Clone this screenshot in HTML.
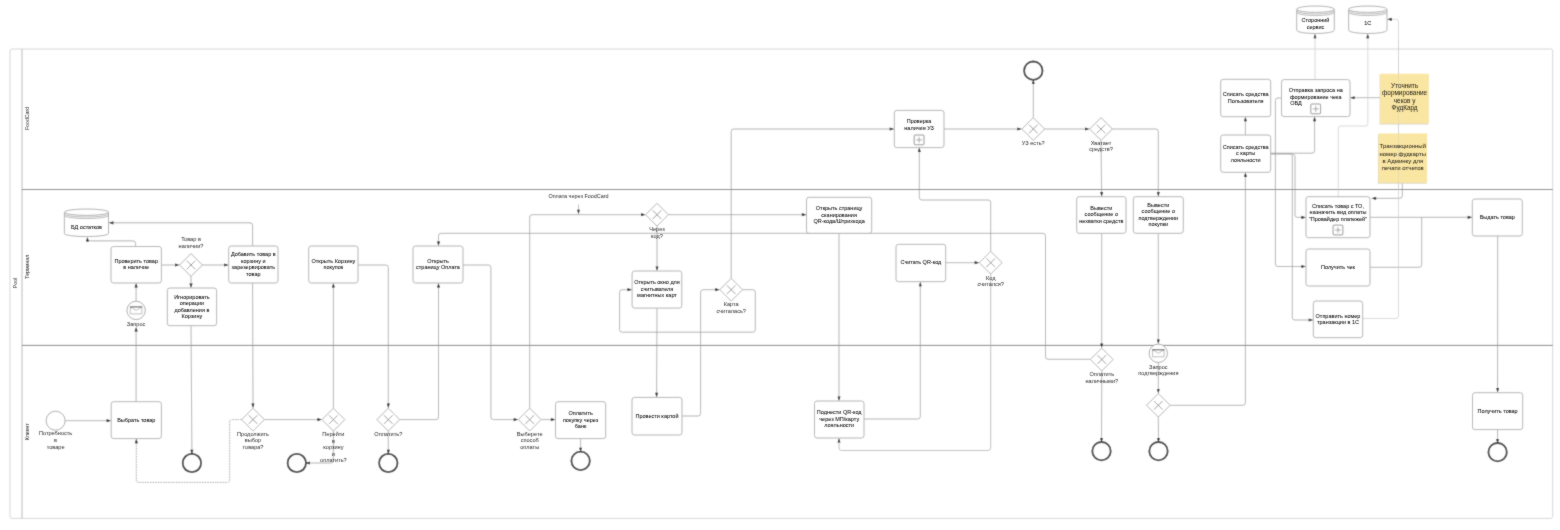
<!DOCTYPE html>
<html><head><meta charset="utf-8"><title>BPMN</title>
<style>
html,body{margin:0;padding:0;background:#fff;width:1560px;height:530px;overflow:hidden}
svg{display:block}
text{font-family:"Liberation Sans",sans-serif}
</style></head><body>
<svg width="1560" height="530" viewBox="0 0 1560 530">
<defs><filter id="soft" x="0" y="0" width="1560" height="530" filterUnits="userSpaceOnUse"><feConvolveMatrix order="3" kernelMatrix="1 3 1 3 16 3 1 3 1" divisor="32" edgeMode="duplicate"/></filter><filter id="softt" x="0" y="0" width="1560" height="530" filterUnits="userSpaceOnUse"><feConvolveMatrix order="3" kernelMatrix="1 2 1 2 24 2 1 2 1" divisor="36" preserveAlpha="false"/></filter></defs>
<g filter="url(#soft)">
<rect width="1560" height="530" fill="#fff"/>
<rect x="10" y="49" width="1542.7" height="469.4" rx="2" fill="#fff" stroke="#d6d6d6" stroke-width="1"/>
<line x1="22" y1="49" x2="22" y2="518.4" stroke="#c9c9c9" stroke-width="1.3"/>
<line x1="22" y1="189.5" x2="1552.7" y2="189.5" stroke="#6a6a6a" stroke-width="0.9"/>
<line x1="22" y1="345.4" x2="1552.7" y2="345.4" stroke="#6a6a6a" stroke-width="0.9"/>
<path d="M65.2 420.7L106.6 420.7" fill="none" stroke="#a0a0a0" stroke-width="0.8"/>
<path d="M111.2 420.7L106.6 422.2L106.6 419.1Z" fill="#111"/>
<path d="M136.1 401.7L136.1 331.6" fill="none" stroke="#a0a0a0" stroke-width="0.8"/>
<path d="M136.1 327.0L137.7 331.6L134.5 331.6Z" fill="#111"/>
<path d="M136.1 301.2L136.1 287.6" fill="none" stroke="#a0a0a0" stroke-width="0.8"/>
<path d="M136.1 283.0L137.7 287.6L134.5 287.6Z" fill="#111"/>
<path d="M135.6 246.5L135.6 243.4Q135.6 240.9 133.1 240.9L89.9 240.9Q87.4 240.9 87.4 238.4L87.4 241.6" fill="none" stroke="#9a9a9a" stroke-width="0.8"/>
<path d="M87.4 237.0L89.0 241.6L85.9 241.6Z" fill="#111"/>
<path d="M252.6 246.0L252.6 225.3Q252.6 222.8 250.1 222.8L113.4 222.8" fill="none" stroke="#9a9a9a" stroke-width="0.8"/>
<path d="M108.8 222.8L113.4 221.2L113.4 224.4Z" fill="#111"/>
<path d="M161.4 265.0L175.0 265.0" fill="none" stroke="#a0a0a0" stroke-width="0.8"/>
<path d="M179.6 265.0L175.0 266.6L175.0 263.4Z" fill="#111"/>
<path d="M202.4 265.0L224.1 265.0" fill="none" stroke="#a0a0a0" stroke-width="0.8"/>
<path d="M228.7 265.0L224.1 266.6L224.1 263.4Z" fill="#111"/>
<path d="M191.0 276.4L191.0 283.4" fill="none" stroke="#a0a0a0" stroke-width="0.8"/>
<path d="M191.0 288.0L189.4 283.4L192.6 283.4Z" fill="#111"/>
<path d="M191.0 325.7L191.9 449.8" fill="none" stroke="#a0a0a0" stroke-width="0.8"/>
<path d="M191.9 454.4L190.3 449.8L193.4 449.8Z" fill="#111"/>
<path d="M252.6 283.0L253.0 403.6" fill="none" stroke="#a0a0a0" stroke-width="0.8"/>
<path d="M253.0 408.2L251.4 403.6L254.5 403.6Z" fill="#111"/>
<path d="M264.4 419.6L317.4 419.6" fill="none" stroke="#a0a0a0" stroke-width="0.8"/>
<path d="M322.0 419.6L317.4 421.2L317.4 418.1Z" fill="#111"/>
<path d="M241.6 419.6L232.1 419.6Q229.6 419.6 229.6 422.1L229.6 479.9Q229.6 482.4 227.1 482.4L138.8 482.4Q136.3 482.4 136.3 479.9L136.3 443.2" fill="none" stroke="#8a8a8a" stroke-width="0.8" stroke-dasharray="1.5 1.1"/>
<path d="M136.3 438.6L137.9 443.2L134.8 443.2Z" fill="#111"/>
<path d="M333.4 408.2L333.4 287.6" fill="none" stroke="#a0a0a0" stroke-width="0.8"/>
<path d="M333.4 283.0L334.9 287.6L331.8 287.6Z" fill="#111"/>
<path d="M333.4 431.0L333.4 460.5Q333.4 463.0 330.9 463.0L310.0 463.0" fill="none" stroke="#a0a0a0" stroke-width="0.8"/>
<path d="M305.4 463.0L310.0 461.4L310.0 464.6Z" fill="#111"/>
<path d="M358.0 265.0L385.8 265.0Q388.3 265.0 388.3 267.5L388.3 403.6" fill="none" stroke="#a0a0a0" stroke-width="0.8"/>
<path d="M388.3 408.2L386.8 403.6L389.9 403.6Z" fill="#111"/>
<path d="M388.3 431.0L388.3 449.8" fill="none" stroke="#a0a0a0" stroke-width="0.8"/>
<path d="M388.3 454.4L386.8 449.8L389.9 449.8Z" fill="#111"/>
<path d="M399.7 419.6L436.0 419.6Q438.5 419.6 438.5 417.1L438.5 287.6" fill="none" stroke="#a0a0a0" stroke-width="0.8"/>
<path d="M438.5 283.0L440.1 287.6L436.9 287.6Z" fill="#111"/>
<path d="M463.0 265.0L488.4 265.0Q490.9 265.0 490.9 267.5L490.9 417.1Q490.9 419.6 493.4 419.6L513.7 419.6" fill="none" stroke="#a0a0a0" stroke-width="0.8"/>
<path d="M518.3 419.6L513.7 421.2L513.7 418.1Z" fill="#111"/>
<path d="M541.1 419.6L550.9 419.6" fill="none" stroke="#a0a0a0" stroke-width="0.8"/>
<path d="M555.5 419.6L550.9 421.2L550.9 418.1Z" fill="#111"/>
<path d="M580.6 438.6L580.6 447.7" fill="none" stroke="#a0a0a0" stroke-width="0.8"/>
<path d="M580.6 452.3L579.1 447.7L582.1 447.7Z" fill="#111"/>
<path d="M529.7 408.2L529.7 217.2Q529.7 214.7 532.2 214.7L641.0 214.7" fill="none" stroke="#a0a0a0" stroke-width="0.8"/>
<path d="M645.6 214.7L641.0 216.2L641.0 213.1Z" fill="#111"/>
<path d="M578.5 204.5L578.5 209.7" fill="none" stroke="#a0a0a0" stroke-width="0.7"/>
<path d="M578.5 214.3L577.0 209.7L580.0 209.7Z" fill="#111"/>
<path d="M668.4 214.7L801.9 214.7" fill="none" stroke="#a0a0a0" stroke-width="0.8"/>
<path d="M806.5 214.7L801.9 216.2L801.9 213.1Z" fill="#111"/>
<path d="M657.0 226.1L657.0 266.4" fill="none" stroke="#a0a0a0" stroke-width="0.8"/>
<path d="M657.0 271.0L655.5 266.4L658.5 266.4Z" fill="#111"/>
<path d="M657.0 308.1L656.6 392.8" fill="none" stroke="#a0a0a0" stroke-width="0.8"/>
<path d="M656.6 397.4L655.1 392.8L658.2 392.8Z" fill="#111"/>
<path d="M682.0 416.0L698.1 416.0Q700.6 416.0 700.6 413.5L700.6 292.2Q700.6 289.7 703.1 289.7L715.2 289.7" fill="none" stroke="#a0a0a0" stroke-width="0.8"/>
<path d="M719.8 289.7L715.2 291.2L715.2 288.1Z" fill="#111"/>
<path d="M742.6 289.7L752.8 289.7Q755.3 289.7 755.3 292.2L755.3 329.7Q755.3 332.2 752.8 332.2L622.1 332.2Q619.6 332.2 619.6 329.7L619.6 292.2Q619.6 289.7 622.1 289.7L627.5 289.7" fill="none" stroke="#a0a0a0" stroke-width="0.8"/>
<path d="M632.1 289.7L627.5 291.2L627.5 288.1Z" fill="#111"/>
<path d="M731.2 278.3L731.2 131.5Q731.2 129.0 733.7 129.0L889.7 129.0" fill="none" stroke="#a0a0a0" stroke-width="0.8"/>
<path d="M894.3 129.0L889.7 130.6L889.7 127.5Z" fill="#111"/>
<path d="M839.0 233.3L839.0 396.4" fill="none" stroke="#a0a0a0" stroke-width="0.8"/>
<path d="M839.0 401.0L837.5 396.4L840.5 396.4Z" fill="#111"/>
<path d="M864.0 419.0L917.8 419.0Q920.3 419.0 920.3 416.5L920.3 286.3" fill="none" stroke="#a0a0a0" stroke-width="0.8"/>
<path d="M920.3 281.7L921.8 286.3L918.8 286.3Z" fill="#111"/>
<path d="M945.7 262.7L974.7 262.7" fill="none" stroke="#a0a0a0" stroke-width="0.8"/>
<path d="M979.3 262.7L974.7 264.2L974.7 261.1Z" fill="#111"/>
<path d="M990.7 251.3L990.7 202.5Q990.7 200.0 988.2 200.0L921.8 200.0Q919.3 200.0 919.3 197.5L919.3 151.9" fill="none" stroke="#a0a0a0" stroke-width="0.8"/>
<path d="M919.3 147.3L920.8 151.9L917.8 151.9Z" fill="#111"/>
<path d="M990.7 274.1L990.7 448.0Q990.7 450.5 988.2 450.5L841.5 450.5Q839.0 450.5 839.0 448.0L839.0 442.6" fill="none" stroke="#b0b0b0" stroke-width="0.8"/>
<path d="M839.0 438.0L840.5 442.6L837.5 442.6Z" fill="#111"/>
<path d="M1090.4 359.3L1048.0 359.3Q1045.5 359.3 1045.5 356.8L1045.5 235.8Q1045.5 233.3 1043.0 233.3L441.0 233.3Q438.5 233.3 438.5 235.8L438.5 241.4" fill="none" stroke="#a0a0a0" stroke-width="0.8"/>
<path d="M438.5 246.0L436.9 241.4L440.1 241.4Z" fill="#111"/>
<path d="M944.0 129.0L1017.3 129.0" fill="none" stroke="#a0a0a0" stroke-width="0.8"/>
<path d="M1021.9 129.0L1017.3 130.6L1017.3 127.5Z" fill="#111"/>
<path d="M1033.3 117.6L1033.3 84.1" fill="none" stroke="#a0a0a0" stroke-width="0.8"/>
<path d="M1033.3 79.5L1034.8 84.1L1031.8 84.1Z" fill="#111"/>
<path d="M1044.7 129.0L1085.0 129.0" fill="none" stroke="#a0a0a0" stroke-width="0.8"/>
<path d="M1089.6 129.0L1085.0 130.6L1085.0 127.5Z" fill="#111"/>
<path d="M1101.0 140.4L1101.6 192.1" fill="none" stroke="#a0a0a0" stroke-width="0.8"/>
<path d="M1101.7 196.7L1100.1 192.1L1103.2 192.1Z" fill="#111"/>
<path d="M1112.4 129.0L1155.8 129.0Q1158.3 129.0 1158.3 131.5L1158.3 192.1" fill="none" stroke="#a0a0a0" stroke-width="0.8"/>
<path d="M1158.3 196.7L1156.8 192.1L1159.8 192.1Z" fill="#111"/>
<path d="M1101.7 233.3L1101.7 343.4" fill="none" stroke="#a0a0a0" stroke-width="0.8"/>
<path d="M1101.7 348.0L1100.2 343.4L1103.2 343.4Z" fill="#111"/>
<path d="M1158.3 233.3L1158.3 339.5" fill="none" stroke="#a0a0a0" stroke-width="0.8"/>
<path d="M1158.3 344.1L1156.8 339.5L1159.8 339.5Z" fill="#111"/>
<path d="M1158.3 362.5L1158.3 388.9" fill="none" stroke="#a0a0a0" stroke-width="0.8"/>
<path d="M1158.3 393.5L1156.8 388.9L1159.8 388.9Z" fill="#111"/>
<path d="M1101.8 371.0L1101.5 438.0" fill="none" stroke="#a0a0a0" stroke-width="0.8"/>
<path d="M1101.5 442.6L1100.0 438.0L1103.1 438.0Z" fill="#111"/>
<path d="M1158.3 417.3L1158.5 438.0" fill="none" stroke="#a0a0a0" stroke-width="0.8"/>
<path d="M1158.5 442.6L1156.9 438.0L1160.0 438.0Z" fill="#111"/>
<path d="M1170.3 405.3L1242.9 405.3Q1245.4 405.3 1245.4 402.8L1245.4 176.9" fill="none" stroke="#a0a0a0" stroke-width="0.8"/>
<path d="M1245.4 172.3L1247.0 176.9L1243.9 176.9Z" fill="#111"/>
<path d="M1245.4 135.0L1245.4 121.3" fill="none" stroke="#a0a0a0" stroke-width="0.8"/>
<path d="M1245.4 116.7L1247.0 121.3L1243.9 121.3Z" fill="#111"/>
<path d="M1270.7 153.2L1312.1 153.2Q1314.6 153.2 1314.6 150.7L1314.6 121.2" fill="none" stroke="#a0a0a0" stroke-width="0.8"/>
<path d="M1314.6 116.6L1316.1 121.2L1313.0 121.2Z" fill="#111"/>
<path d="M1270.7 153.6L1289.8 153.6Q1292.3 153.6 1292.3 156.1L1292.3 317.5Q1292.3 320.0 1294.8 320.0L1308.7 320.0" fill="none" stroke="#a0a0a0" stroke-width="0.8"/>
<path d="M1313.3 320.0L1308.7 321.6L1308.7 318.4Z" fill="#111"/>
<path d="M1270.7 154.0L1292.5 154.0Q1295.0 154.0 1295.0 156.5L1295.0 214.9Q1295.0 217.4 1297.5 217.4L1301.4 217.4" fill="none" stroke="#a0a0a0" stroke-width="0.8"/>
<path d="M1306.0 217.4L1301.4 219.0L1301.4 215.8Z" fill="#111"/>
<path d="M1281.5 98.0L1277.9 98.0Q1275.4 98.0 1275.4 100.5L1275.4 264.0Q1275.4 266.5 1277.9 266.5L1301.4 266.5" fill="none" stroke="#a0a0a0" stroke-width="0.8"/>
<path d="M1306.0 266.5L1301.4 268.1L1301.4 264.9Z" fill="#111"/>
<path d="M1370.0 217.3L1467.7 217.3" fill="none" stroke="#a0a0a0" stroke-width="0.8"/>
<path d="M1472.3 217.3L1467.7 218.9L1467.7 215.8Z" fill="#111"/>
<path d="M1370.0 267.3L1419.2 267.3Q1421.7 267.3 1421.7 264.8L1421.7 217.3" fill="none" stroke="#a0a0a0" stroke-width="0.8"/>
<path d="M1497.7 236.0L1497.6 388.1" fill="none" stroke="#a0a0a0" stroke-width="0.8"/>
<path d="M1497.6 392.7L1496.1 388.1L1499.2 388.1Z" fill="#111"/>
<path d="M1497.6 429.6L1497.6 439.0" fill="none" stroke="#a0a0a0" stroke-width="0.8"/>
<path d="M1497.6 443.6L1496.0 439.0L1499.1 439.0Z" fill="#111"/>
<path d="M1380.0 97.7L1354.6 97.7" fill="none" stroke="#a0a0a0" stroke-width="0.8"/>
<path d="M1350.0 97.7L1354.6 96.2L1354.6 99.2Z" fill="#111"/>
<path d="M1402.3 182.7L1402.3 195.8Q1402.3 198.3 1399.8 198.3L1376.1 198.3" fill="none" stroke="#a0a0a0" stroke-width="0.8"/>
<path d="M1371.5 198.3L1376.1 196.8L1376.1 199.9Z" fill="#111"/>
<path d="M1315.0 79.6L1315.0 38.3" fill="none" stroke="#cfcfcf" stroke-width="0.8"/>
<path d="M1315.0 33.7L1316.5 38.3L1313.5 38.3Z" fill="#111"/>
<path d="M1338.3 196.7L1338.3 128.5Q1338.3 126.0 1340.8 126.0L1365.3 126.0Q1367.8 126.0 1367.8 123.5L1367.8 38.3" fill="none" stroke="#cfcfcf" stroke-width="0.8"/>
<path d="M1367.8 33.7L1369.3 38.3L1366.2 38.3Z" fill="#111"/>
<path d="M1362.7 318.5L1396.0 318.5Q1398.5 318.5 1398.5 316.0L1398.5 21.8Q1398.5 19.3 1396.0 19.3L1391.8 19.3" fill="none" stroke="#cfcfcf" stroke-width="0.8"/>
<path d="M1387.2 19.3L1391.8 17.8L1391.8 20.9Z" fill="#111"/>
<rect x="111.0" y="246.5" width="50.4" height="36.5" rx="2.5" fill="#fff" stroke="#b2b2b2" stroke-width="1"/>
<rect x="167.3" y="288.0" width="49.3" height="37.7" rx="2.5" fill="#fff" stroke="#b2b2b2" stroke-width="1"/>
<rect x="228.7" y="246.0" width="49.3" height="37.0" rx="2.5" fill="#fff" stroke="#b2b2b2" stroke-width="1"/>
<rect x="308.7" y="246.0" width="49.3" height="37.0" rx="2.5" fill="#fff" stroke="#b2b2b2" stroke-width="1"/>
<rect x="413.0" y="246.0" width="50.0" height="37.0" rx="2.5" fill="#fff" stroke="#b2b2b2" stroke-width="1"/>
<rect x="632.1" y="271.0" width="49.7" height="37.1" rx="2.5" fill="#fff" stroke="#b2b2b2" stroke-width="1"/>
<rect x="806.5" y="197.3" width="65.2" height="36.0" rx="2.5" fill="#fff" stroke="#b2b2b2" stroke-width="1"/>
<rect x="896.0" y="244.3" width="49.7" height="37.4" rx="2.5" fill="#fff" stroke="#b2b2b2" stroke-width="1"/>
<rect x="1076.7" y="196.7" width="49.3" height="36.6" rx="2.5" fill="#fff" stroke="#b2b2b2" stroke-width="1"/>
<rect x="1133.3" y="196.7" width="50.0" height="36.6" rx="2.5" fill="#fff" stroke="#b2b2b2" stroke-width="1"/>
<rect x="1306.0" y="196.7" width="64.0" height="41.0" rx="2.5" fill="#fff" stroke="#b2b2b2" stroke-width="1"/>
<rect x="1333.1" y="225.1" width="9.8" height="9.8" rx="0.8" fill="none" stroke="#8a8a8a" stroke-width="0.9"/>
<path d="M1335.0 230.0H1341.0M1338.0 227.0V233.0" stroke="#8a8a8a" stroke-width="0.7"/>
<rect x="1306.0" y="249.0" width="64.0" height="37.0" rx="2.5" fill="#fff" stroke="#b2b2b2" stroke-width="1"/>
<rect x="1313.3" y="301.0" width="49.4" height="36.7" rx="2.5" fill="#fff" stroke="#b2b2b2" stroke-width="1"/>
<rect x="1472.3" y="199.0" width="50.0" height="37.0" rx="2.5" fill="#fff" stroke="#b2b2b2" stroke-width="1"/>
<rect x="894.3" y="110.4" width="49.7" height="37.2" rx="2.5" fill="#fff" stroke="#b2b2b2" stroke-width="1"/>
<rect x="914.2" y="135.0" width="9.8" height="9.8" rx="0.8" fill="none" stroke="#8a8a8a" stroke-width="0.9"/>
<path d="M916.1 139.9H922.1M919.1 136.9V142.9" stroke="#8a8a8a" stroke-width="0.7"/>
<rect x="1220.7" y="79.3" width="50.0" height="37.4" rx="2.5" fill="#fff" stroke="#b2b2b2" stroke-width="1"/>
<rect x="1220.7" y="135.0" width="50.0" height="37.3" rx="2.5" fill="#fff" stroke="#b2b2b2" stroke-width="1"/>
<rect x="1281.5" y="79.6" width="68.5" height="37.0" rx="2.5" fill="#fff" stroke="#b2b2b2" stroke-width="1"/>
<rect x="1310.8" y="104.0" width="9.8" height="9.8" rx="0.8" fill="none" stroke="#8a8a8a" stroke-width="0.9"/>
<path d="M1312.8 108.9H1318.8M1315.8 105.9V111.9" stroke="#8a8a8a" stroke-width="0.7"/>
<rect x="111.2" y="401.7" width="50.2" height="36.9" rx="2.5" fill="#fff" stroke="#b2b2b2" stroke-width="1"/>
<rect x="555.5" y="401.7" width="50.2" height="36.9" rx="2.5" fill="#fff" stroke="#b2b2b2" stroke-width="1"/>
<rect x="632.0" y="397.4" width="50.0" height="37.6" rx="2.5" fill="#fff" stroke="#b2b2b2" stroke-width="1"/>
<rect x="814.5" y="401.0" width="49.5" height="37.0" rx="2.5" fill="#fff" stroke="#b2b2b2" stroke-width="1"/>
<rect x="1472.5" y="392.7" width="50.2" height="36.9" rx="2.5" fill="#fff" stroke="#b2b2b2" stroke-width="1"/>
<path d="M191.0 253.6L202.4 265.0L191.0 276.4L179.6 265.0Z" fill="#fff" stroke="#a8a8a8" stroke-width="0.9"/>
<path d="M186.7 260.7L195.3 269.3M195.3 260.7L186.7 269.3" stroke="#8c8c8c" stroke-width="0.9"/>
<path d="M657.0 203.3L668.4 214.7L657.0 226.1L645.6 214.7Z" fill="#fff" stroke="#a8a8a8" stroke-width="0.9"/>
<path d="M652.7 210.4L661.3 219.0M661.3 210.4L652.7 219.0" stroke="#8c8c8c" stroke-width="0.9"/>
<path d="M731.2 278.3L742.6 289.7L731.2 301.1L719.8 289.7Z" fill="#fff" stroke="#a8a8a8" stroke-width="0.9"/>
<path d="M726.9 285.4L735.5 294.0M735.5 285.4L726.9 294.0" stroke="#8c8c8c" stroke-width="0.9"/>
<path d="M990.7 251.3L1002.1 262.7L990.7 274.1L979.3 262.7Z" fill="#fff" stroke="#a8a8a8" stroke-width="0.9"/>
<path d="M986.4 258.4L995.0 267.0M995.0 258.4L986.4 267.0" stroke="#8c8c8c" stroke-width="0.9"/>
<path d="M1033.3 117.6L1044.7 129.0L1033.3 140.4L1021.9 129.0Z" fill="#fff" stroke="#a8a8a8" stroke-width="0.9"/>
<path d="M1029.0 124.7L1037.6 133.3M1037.6 124.7L1029.0 133.3" stroke="#8c8c8c" stroke-width="0.9"/>
<path d="M1101.0 117.6L1112.4 129.0L1101.0 140.4L1089.6 129.0Z" fill="#fff" stroke="#a8a8a8" stroke-width="0.9"/>
<path d="M1096.7 124.7L1105.3 133.3M1105.3 124.7L1096.7 133.3" stroke="#8c8c8c" stroke-width="0.9"/>
<path d="M253.0 408.2L264.4 419.6L253.0 431.0L241.6 419.6Z" fill="#fff" stroke="#a8a8a8" stroke-width="0.9"/>
<path d="M248.7 415.3L257.3 423.9M257.3 415.3L248.7 423.9" stroke="#8c8c8c" stroke-width="0.9"/>
<path d="M333.4 408.2L344.8 419.6L333.4 431.0L322.0 419.6Z" fill="#fff" stroke="#a8a8a8" stroke-width="0.9"/>
<path d="M329.1 415.3L337.7 423.9M337.7 415.3L329.1 423.9" stroke="#8c8c8c" stroke-width="0.9"/>
<path d="M388.3 408.2L399.7 419.6L388.3 431.0L376.9 419.6Z" fill="#fff" stroke="#a8a8a8" stroke-width="0.9"/>
<path d="M384.0 415.3L392.6 423.9M392.6 415.3L384.0 423.9" stroke="#8c8c8c" stroke-width="0.9"/>
<path d="M529.7 408.2L541.1 419.6L529.7 431.0L518.3 419.6Z" fill="#fff" stroke="#a8a8a8" stroke-width="0.9"/>
<path d="M525.4 415.3L534.0 423.9M534.0 415.3L525.4 423.9" stroke="#8c8c8c" stroke-width="0.9"/>
<path d="M1101.8 348.1L1113.2 359.5L1101.8 370.9L1090.4 359.5Z" fill="#fff" stroke="#a8a8a8" stroke-width="0.9"/>
<path d="M1097.5 355.2L1106.1 363.8M1106.1 355.2L1097.5 363.8" stroke="#8c8c8c" stroke-width="0.9"/>
<path d="M1158.3 393.5L1170.1 405.3L1158.3 417.1L1146.5 405.3Z" fill="#fff" stroke="#a8a8a8" stroke-width="0.9"/>
<path d="M1154.0 401.0L1162.6 409.6M1162.6 401.0L1154.0 409.6" stroke="#8c8c8c" stroke-width="0.9"/>
<circle cx="1033.3" cy="70.7" r="9.2" fill="#fff" stroke="#303030" stroke-width="1.8"/>
<circle cx="191.9" cy="463.0" r="9.2" fill="#fff" stroke="#303030" stroke-width="1.8"/>
<circle cx="296.8" cy="463.0" r="9.2" fill="#fff" stroke="#303030" stroke-width="1.8"/>
<circle cx="388.3" cy="463.0" r="9.2" fill="#fff" stroke="#303030" stroke-width="1.8"/>
<circle cx="580.6" cy="460.9" r="9.2" fill="#fff" stroke="#303030" stroke-width="1.8"/>
<circle cx="1101.5" cy="451.2" r="9.2" fill="#fff" stroke="#303030" stroke-width="1.8"/>
<circle cx="1158.5" cy="451.2" r="9.2" fill="#fff" stroke="#303030" stroke-width="1.8"/>
<circle cx="1497.6" cy="452.2" r="9.2" fill="#fff" stroke="#303030" stroke-width="1.8"/>
<circle cx="55.6" cy="420.7" r="9.5" fill="#fff" stroke="#a0a0a0" stroke-width="0.9"/>
<circle cx="136.1" cy="310.4" r="9.2" fill="#fff" stroke="#a0a0a0" stroke-width="0.9"/>
<path d="M130.3 306.9V313.9H141.9V306.9 M130.3 306.9L136.1 310.4L141.9 306.9" fill="none" stroke="#a0a0a0" stroke-width="0.7"/>
<path d="M130.0 306.9H142.2" fill="none" stroke="#3a3a3a" stroke-width="0.9"/>
<circle cx="1158.3" cy="353.3" r="9.2" fill="#fff" stroke="#a0a0a0" stroke-width="0.9"/>
<path d="M1152.5 349.8V356.8H1164.1V349.8 M1152.5 349.8L1158.3 353.3L1164.1 349.8" fill="none" stroke="#a0a0a0" stroke-width="0.7"/>
<path d="M1152.2 349.8H1164.4" fill="none" stroke="#3a3a3a" stroke-width="0.9"/>
<path d="M64.4 212.2V233.4A22.0 3.2 0 0 0 108.5 233.4V212.2" fill="#fff" stroke="#a8a8a8" stroke-width="0.9"/>
<ellipse cx="86.5" cy="212.2" rx="22.0" ry="3.2" fill="#fff" stroke="#a8a8a8" stroke-width="0.9"/>
<path d="M64.4 213.8A22.0 3.2 0 0 0 108.5 213.8" fill="none" stroke="#a0a0a0" stroke-width="0.7"/>
<path d="M64.4 215.4A22.0 3.2 0 0 0 108.5 215.4" fill="none" stroke="#a0a0a0" stroke-width="0.7"/>
<path d="M1296.7 9.2V30.3A18.8 3.2 0 0 0 1334.3 30.3V9.2" fill="#fff" stroke="#a8a8a8" stroke-width="0.9"/>
<ellipse cx="1315.5" cy="9.2" rx="18.8" ry="3.2" fill="#fff" stroke="#a8a8a8" stroke-width="0.9"/>
<path d="M1296.7 10.8A18.8 3.2 0 0 0 1334.3 10.8" fill="none" stroke="#a0a0a0" stroke-width="0.7"/>
<path d="M1296.7 12.4A18.8 3.2 0 0 0 1334.3 12.4" fill="none" stroke="#a0a0a0" stroke-width="0.7"/>
<path d="M1348.6 9.2V30.3A19.2 3.2 0 0 0 1387.0 30.3V9.2" fill="#fff" stroke="#a8a8a8" stroke-width="0.9"/>
<ellipse cx="1367.8" cy="9.2" rx="19.2" ry="3.2" fill="#fff" stroke="#a8a8a8" stroke-width="0.9"/>
<path d="M1348.6 10.8A19.2 3.2 0 0 0 1387.0 10.8" fill="none" stroke="#a0a0a0" stroke-width="0.7"/>
<path d="M1348.6 12.4A19.2 3.2 0 0 0 1387.0 12.4" fill="none" stroke="#a0a0a0" stroke-width="0.7"/>
<rect x="1379.6" y="74.7" width="48.7" height="49.8" fill="#dcd6c4" />
<rect x="1380.2" y="73.7" width="48.7" height="49.8" fill="#fae6a3" />
<rect x="1377.9" y="134.4" width="48.7" height="49.3" fill="#dcd6c4" />
<rect x="1378.5" y="133.4" width="48.7" height="49.3" fill="#fae6a3" />
<path d="M1398.5 40V190" fill="none" stroke="#bdbdbd" stroke-opacity="0.3" stroke-width="0.9"/>
</g>
<g filter="url(#softt)">
<text x="17.4" y="283" font-size="5.2" fill="#222" text-anchor="middle" transform="rotate(-90 17.4 283)">Pool</text>
<text x="29.3" y="118.5" font-size="5.2" fill="#222" text-anchor="middle" transform="rotate(-90 29.3 118.5)">FoodCard</text>
<text x="29.3" y="266.7" font-size="5.2" fill="#222" text-anchor="middle" transform="rotate(-90 29.3 266.7)">Терминал</text>
<text x="29.4" y="431.7" font-size="5.2" fill="#222" text-anchor="middle" transform="rotate(-90 29.4 431.7)">Клиент</text>
<text x="136.2" y="262.93" font-size="5.5" fill="#000" stroke="#000" stroke-width="0.04" text-anchor="middle" font-weight="normal">Проверить товар</text>
<text x="136.2" y="269.43" font-size="5.5" fill="#000" stroke="#000" stroke-width="0.04" text-anchor="middle" font-weight="normal">в наличие</text>
<text x="191.9" y="298.53" font-size="5.5" fill="#000" stroke="#000" stroke-width="0.04" text-anchor="middle" font-weight="normal">Игнорировать</text>
<text x="191.9" y="305.03" font-size="5.5" fill="#000" stroke="#000" stroke-width="0.04" text-anchor="middle" font-weight="normal">операции</text>
<text x="191.9" y="311.53" font-size="5.5" fill="#000" stroke="#000" stroke-width="0.04" text-anchor="middle" font-weight="normal">добавления в</text>
<text x="191.9" y="318.03" font-size="5.5" fill="#000" stroke="#000" stroke-width="0.04" text-anchor="middle" font-weight="normal">Корзину</text>
<text x="253.3" y="256.18" font-size="5.5" fill="#000" stroke="#000" stroke-width="0.04" text-anchor="middle" font-weight="normal">Добавить товар в</text>
<text x="253.3" y="262.68" font-size="5.5" fill="#000" stroke="#000" stroke-width="0.04" text-anchor="middle" font-weight="normal">корзину и</text>
<text x="253.3" y="269.18" font-size="5.5" fill="#000" stroke="#000" stroke-width="0.04" text-anchor="middle" font-weight="normal">зарезервировать</text>
<text x="253.3" y="275.68" font-size="5.5" fill="#000" stroke="#000" stroke-width="0.04" text-anchor="middle" font-weight="normal">товар</text>
<text x="333.4" y="262.68" font-size="5.5" fill="#000" stroke="#000" stroke-width="0.04" text-anchor="middle" font-weight="normal">Открыть Корзину</text>
<text x="333.4" y="269.18" font-size="5.5" fill="#000" stroke="#000" stroke-width="0.04" text-anchor="middle" font-weight="normal">покупок</text>
<text x="438.0" y="262.68" font-size="5.5" fill="#000" stroke="#000" stroke-width="0.04" text-anchor="middle" font-weight="normal">Открыть</text>
<text x="438.0" y="269.18" font-size="5.5" fill="#000" stroke="#000" stroke-width="0.04" text-anchor="middle" font-weight="normal">страницу Оплата</text>
<text x="657.0" y="284.48" font-size="5.5" fill="#000" stroke="#000" stroke-width="0.04" text-anchor="middle" font-weight="normal">Открыть окно для</text>
<text x="657.0" y="290.98" font-size="5.5" fill="#000" stroke="#000" stroke-width="0.04" text-anchor="middle" font-weight="normal">считывателя</text>
<text x="657.0" y="297.48" font-size="5.5" fill="#000" stroke="#000" stroke-width="0.04" text-anchor="middle" font-weight="normal">магнитных карт</text>
<text x="839.1" y="210.23" font-size="5.5" fill="#000" stroke="#000" stroke-width="0.04" text-anchor="middle" font-weight="normal">Открыть страницу</text>
<text x="839.1" y="216.73" font-size="5.5" fill="#000" stroke="#000" stroke-width="0.04" text-anchor="middle" font-weight="normal">сканирования</text>
<text x="839.1" y="223.23" font-size="5.5" fill="#000" stroke="#000" stroke-width="0.04" text-anchor="middle" font-weight="normal">QR-кода/Штрихкода</text>
<text x="920.9" y="264.43" font-size="5.5" fill="#000" stroke="#000" stroke-width="0.04" text-anchor="middle" font-weight="normal">Считать QR-код</text>
<text x="1101.3" y="209.93" font-size="5.5" fill="#000" stroke="#000" stroke-width="0.04" text-anchor="middle" font-weight="normal">Вывести</text>
<text x="1101.3" y="216.43" font-size="5.5" fill="#000" stroke="#000" stroke-width="0.04" text-anchor="middle" font-weight="normal">сообщение о</text>
<text x="1101.3" y="222.93" font-size="5.5" fill="#000" stroke="#000" stroke-width="0.04" text-anchor="middle" font-weight="normal">нехватки средств</text>
<text x="1158.3" y="206.68" font-size="5.5" fill="#000" stroke="#000" stroke-width="0.04" text-anchor="middle" font-weight="normal">Вывести</text>
<text x="1158.3" y="213.18" font-size="5.5" fill="#000" stroke="#000" stroke-width="0.04" text-anchor="middle" font-weight="normal">сообщение о</text>
<text x="1158.3" y="219.68" font-size="5.5" fill="#000" stroke="#000" stroke-width="0.04" text-anchor="middle" font-weight="normal">подтверждении</text>
<text x="1158.3" y="226.18" font-size="5.5" fill="#000" stroke="#000" stroke-width="0.04" text-anchor="middle" font-weight="normal">покупки</text>
<text x="1338.0" y="208.28" font-size="5.5" fill="#000" stroke="#000" stroke-width="0.04" text-anchor="middle" font-weight="normal">Списать товар с ТО,</text>
<text x="1338.0" y="214.43" font-size="5.5" fill="#000" stroke="#000" stroke-width="0.04" text-anchor="middle" font-weight="normal">назначить вид оплаты</text>
<text x="1338.0" y="220.58" font-size="5.5" fill="#000" stroke="#000" stroke-width="0.04" text-anchor="middle" font-weight="normal">&quot;Провайдер платежей&quot;</text>
<text x="1338.0" y="268.93" font-size="5.5" fill="#000" stroke="#000" stroke-width="0.04" text-anchor="middle" font-weight="normal">Получить чек</text>
<text x="1338.0" y="317.53" font-size="5.5" fill="#000" stroke="#000" stroke-width="0.04" text-anchor="middle" font-weight="normal">Отправить номер</text>
<text x="1338.0" y="324.03" font-size="5.5" fill="#000" stroke="#000" stroke-width="0.04" text-anchor="middle" font-weight="normal">транзакции в 1С</text>
<text x="1497.3" y="218.93" font-size="5.5" fill="#000" stroke="#000" stroke-width="0.04" text-anchor="middle" font-weight="normal">Выдать товар</text>
<text x="919.1" y="122.83" font-size="5.5" fill="#000" stroke="#000" stroke-width="0.04" text-anchor="middle" font-weight="normal">Проверка</text>
<text x="919.1" y="129.83" font-size="5.5" fill="#000" stroke="#000" stroke-width="0.04" text-anchor="middle" font-weight="normal">наличия УЗ</text>
<text x="1245.7" y="96.18" font-size="5.5" fill="#000" stroke="#000" stroke-width="0.04" text-anchor="middle" font-weight="normal">Списать средства</text>
<text x="1245.7" y="102.68" font-size="5.5" fill="#000" stroke="#000" stroke-width="0.04" text-anchor="middle" font-weight="normal">Пользователя</text>
<text x="1245.7" y="148.58" font-size="5.5" fill="#000" stroke="#000" stroke-width="0.04" text-anchor="middle" font-weight="normal">Списать средства</text>
<text x="1245.7" y="155.08" font-size="5.5" fill="#000" stroke="#000" stroke-width="0.04" text-anchor="middle" font-weight="normal">с карты</text>
<text x="1245.7" y="161.58" font-size="5.5" fill="#000" stroke="#000" stroke-width="0.04" text-anchor="middle" font-weight="normal">лояльности</text>
<text x="1315.8" y="92.23" font-size="5.5" fill="#000" stroke="#000" stroke-width="0.04" text-anchor="middle" font-weight="normal">Отправка запроса на</text>
<text x="1315.8" y="98.73" font-size="5.5" fill="#000" stroke="#000" stroke-width="0.04" text-anchor="middle" font-weight="normal">формирование чека</text>
<text x="1290.3" y="105.23" font-size="5.5" fill="#000" stroke="#000" stroke-width="0.04" text-anchor="start">ОВД</text>
<text x="136.3" y="421.58" font-size="5.5" fill="#000" stroke="#000" stroke-width="0.04" text-anchor="middle" font-weight="normal">Выбрать товар</text>
<text x="580.6" y="415.08" font-size="5.5" fill="#000" stroke="#000" stroke-width="0.04" text-anchor="middle" font-weight="normal">Оплатить</text>
<text x="580.6" y="421.58" font-size="5.5" fill="#000" stroke="#000" stroke-width="0.04" text-anchor="middle" font-weight="normal">покупку через</text>
<text x="580.6" y="428.08" font-size="5.5" fill="#000" stroke="#000" stroke-width="0.04" text-anchor="middle" font-weight="normal">банк</text>
<text x="657.0" y="417.63" font-size="5.5" fill="#000" stroke="#000" stroke-width="0.04" text-anchor="middle" font-weight="normal">Провести картой</text>
<text x="839.2" y="414.43" font-size="5.5" fill="#000" stroke="#000" stroke-width="0.04" text-anchor="middle" font-weight="normal">Поднести QR-код</text>
<text x="839.2" y="420.93" font-size="5.5" fill="#000" stroke="#000" stroke-width="0.04" text-anchor="middle" font-weight="normal">через МП/карту</text>
<text x="839.2" y="427.43" font-size="5.5" fill="#000" stroke="#000" stroke-width="0.04" text-anchor="middle" font-weight="normal">лояльности</text>
<text x="1497.6" y="412.58" font-size="5.5" fill="#000" stroke="#000" stroke-width="0.04" text-anchor="middle" font-weight="normal">Получить товар</text>
<text x="191.0" y="241.02" font-size="5.6" fill="#2a2a2a" text-anchor="middle">Товар в</text>
<text x="191.0" y="247.72" font-size="5.6" fill="#2a2a2a" text-anchor="middle">наличии?</text>
<text x="657.0" y="231.02" font-size="5.6" fill="#2a2a2a" text-anchor="middle">Через</text>
<text x="657.0" y="238.02" font-size="5.6" fill="#2a2a2a" text-anchor="middle">код?</text>
<text x="731.2" y="306.22" font-size="5.6" fill="#2a2a2a" text-anchor="middle">Карта</text>
<text x="731.2" y="313.02" font-size="5.6" fill="#2a2a2a" text-anchor="middle">считалась?</text>
<text x="990.7" y="279.72" font-size="5.6" fill="#2a2a2a" text-anchor="middle">Код</text>
<text x="990.7" y="286.02" font-size="5.6" fill="#2a2a2a" text-anchor="middle">считался?</text>
<text x="1033.3" y="144.72" font-size="5.6" fill="#2a2a2a" text-anchor="middle">УЗ есть?</text>
<text x="1101.0" y="145.32" font-size="5.6" fill="#2a2a2a" text-anchor="middle">Хватает</text>
<text x="1101.0" y="151.32" font-size="5.6" fill="#2a2a2a" text-anchor="middle">средств?</text>
<text x="253.0" y="436.32" font-size="5.6" fill="#2a2a2a" text-anchor="middle">Продолжить</text>
<text x="253.0" y="442.42" font-size="5.6" fill="#2a2a2a" text-anchor="middle">выбор</text>
<text x="253.0" y="448.92" font-size="5.6" fill="#2a2a2a" text-anchor="middle">товара?</text>
<text x="333.4" y="436.02" font-size="5.6" fill="#2a2a2a" text-anchor="middle">Перейти</text>
<text x="333.4" y="442.52" font-size="5.6" fill="#2a2a2a" text-anchor="middle">в</text>
<text x="333.4" y="449.02" font-size="5.6" fill="#2a2a2a" text-anchor="middle">корзину</text>
<text x="333.4" y="455.52" font-size="5.6" fill="#2a2a2a" text-anchor="middle">и</text>
<text x="333.4" y="462.02" font-size="5.6" fill="#2a2a2a" text-anchor="middle">оплатить?</text>
<text x="388.3" y="436.32" font-size="5.6" fill="#2a2a2a" text-anchor="middle">Оплатить?</text>
<text x="529.7" y="436.32" font-size="5.6" fill="#2a2a2a" text-anchor="middle">Выберете</text>
<text x="529.7" y="442.42" font-size="5.6" fill="#2a2a2a" text-anchor="middle">способ</text>
<text x="529.7" y="449.02" font-size="5.6" fill="#2a2a2a" text-anchor="middle">оплаты</text>
<text x="1101.8" y="376.02" font-size="5.6" fill="#2a2a2a" text-anchor="middle">Оплатить</text>
<text x="1101.8" y="382.52" font-size="5.6" fill="#2a2a2a" text-anchor="middle">наличными?</text>
<text x="55.6" y="435.32" font-size="5.6" fill="#2a2a2a" text-anchor="middle">Потребность</text>
<text x="55.6" y="442.42" font-size="5.6" fill="#2a2a2a" text-anchor="middle">в</text>
<text x="55.6" y="448.52" font-size="5.6" fill="#2a2a2a" text-anchor="middle">товаре</text>
<text x="136.1" y="325.62" font-size="5.6" fill="#2a2a2a" text-anchor="middle">Запрос</text>
<text x="1158.3" y="368.62" font-size="5.6" fill="#2a2a2a" text-anchor="middle">Запрос</text>
<text x="1158.3" y="375.32" font-size="5.6" fill="#2a2a2a" text-anchor="middle">подтверждения</text>
<text x="86.5" y="228.53" font-size="5.5" fill="#000" stroke="#000" stroke-width="0.04" text-anchor="middle" font-weight="normal">БД остатков</text>
<text x="1315.5" y="22.23" font-size="5.5" fill="#000" stroke="#000" stroke-width="0.04" text-anchor="middle" font-weight="normal">Сторонний</text>
<text x="1315.5" y="28.73" font-size="5.5" fill="#000" stroke="#000" stroke-width="0.04" text-anchor="middle" font-weight="normal">сервис</text>
<text x="1367.8" y="25.48" font-size="5.5" fill="#000" stroke="#000" stroke-width="0.04" text-anchor="middle" font-weight="normal">1С</text>
<text x="1404.6" y="87.91" font-size="6.4" fill="#2e2a1e" stroke="#2e2a1e" stroke-width="0.04" text-anchor="middle" font-weight="normal">Уточнить</text>
<text x="1404.6" y="95.41" font-size="6.4" fill="#2e2a1e" stroke="#2e2a1e" stroke-width="0.04" text-anchor="middle" font-weight="normal">формирование</text>
<text x="1404.6" y="102.91" font-size="6.4" fill="#2e2a1e" stroke="#2e2a1e" stroke-width="0.04" text-anchor="middle" font-weight="normal">чеков у</text>
<text x="1404.6" y="110.41" font-size="6.4" fill="#2e2a1e" stroke="#2e2a1e" stroke-width="0.04" text-anchor="middle" font-weight="normal">ФудКард</text>
<text x="1402.8" y="148.46" font-size="6.0" fill="#2e2a1e" stroke="#2e2a1e" stroke-width="0.04" text-anchor="middle" font-weight="normal">Транзакционный</text>
<text x="1402.8" y="155.66" font-size="6.0" fill="#2e2a1e" stroke="#2e2a1e" stroke-width="0.04" text-anchor="middle" font-weight="normal">номер фудкарты</text>
<text x="1402.8" y="162.86" font-size="6.0" fill="#2e2a1e" stroke="#2e2a1e" stroke-width="0.04" text-anchor="middle" font-weight="normal">в Админку для</text>
<text x="1402.8" y="170.06" font-size="6.0" fill="#2e2a1e" stroke="#2e2a1e" stroke-width="0.04" text-anchor="middle" font-weight="normal">печати отчетов</text>
<text x="578.5" y="197.76" font-size="5.45" fill="#2a2a2a" text-anchor="middle">Оплата через FoodCard</text>
</g>
</svg>
</body></html>
